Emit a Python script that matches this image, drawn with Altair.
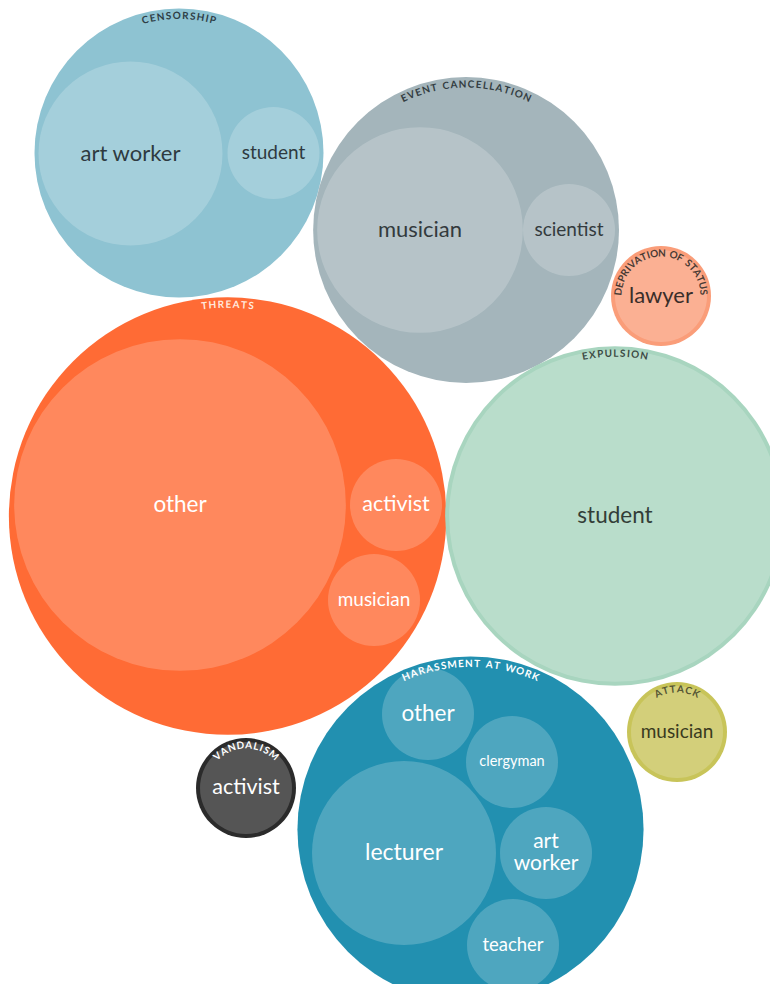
import math
import numpy as np
import pandas as pd
import altair as alt

# ---------------- data ----------------
GROUPS = ["censorship", "event cancellation", "deprivation of status", "threats",
          "expulsion", "harassment at work", "vandalism", "attack"]
LEAF_GROUP = [0, 0, 1, 1, 2, 3, 3, 3, 4, 5, 5, 5, 5, 5, 6, 7]
LEAF_LABEL = ["art worker", "student", "musician", "scientist", "lawyer",
              "other", "activist", "musician", "student",
              "lecturer", "other", "clergyman", "art worker", "teacher",
              "activist", "musician"]
LEAF_COUNT = [4, 1, 5, 1, 1, 13, 1, 1, 13, 4, 1, 1, 1, 1, 1, 1]

# ---------------- layout (bubble centres, in pixel units) ----------------
LAYOUT_X = [130.5, 273.5, 420, 569, 661, 180, 396, 374, 615, 404, 428, 512, 546, 513, 246, 677]
LAYOUT_Y = [153.5, 153, 230, 230, 296, 505, 505, 600, 516, 853, 714, 762, 853, 945, 788, 732]
UNIT_R = 46.0   # radius of a value-1 bubble
PAD = 4.0

# ---------------- styles ----------------
GROUP_COLORS = ["#8ec3d2", "#a4b5bb", "#fa9d79", "#ff6b35",
                "#a8d5bf", "#2290b0", "#2b2b2b", "#c8c459"]
GROUP_LABEL_COLORS = ["#2e3f47", "#333d42", "#4a3a33", "#ffe8dc",
                      "#3b4a43", "#ffffff", "#ffffff", "#555533"]
LEAF_TEXT_COLORS = ["#2e3a40", "#2e3a40", "#333a3d", "#333a3d", "#3a2e2a",
                    "#ffffff", "#ffffff", "#ffffff", "#333d38",
                    "#ffffff", "#ffffff", "#ffffff", "#ffffff", "#ffffff",
                    "#ffffff", "#3a3a20"]
LEAF_FONT_SIZE = [22, 19, 22, 19, 22, 22.5, 21.5, 19, 22.5, 23, 22.5, 14.5, 21, 18.5, 21.5, 19]
WRAP = {12: "art\nworker"}
LABEL_DY = {12: -11}
LINE_H = 22
FONT = "Lato"


def enclose(xs, ys, rs):
    xs, ys, rs = map(np.asarray, (xs, ys, rs))
    f = lambda cx, cy: np.max(np.hypot(xs[None, None, :] - cx[..., None],
                                       ys[None, None, :] - cy[..., None]) + rs, axis=-1)
    cx, cy = float(np.mean(xs)), float(np.mean(ys))
    span = 200.0
    for _ in range(12):
        g = np.linspace(-span, span, 41)
        GX, GY = np.meshgrid(cx + g, cy + g)
        vals = f(GX, GY)
        i = np.unravel_index(np.argmin(vals), vals.shape)
        cx, cy = float(GX[i]), float(GY[i])
        span = span / 5
    rad = float(f(np.array([[cx]]), np.array([[cy]]))[0, 0])
    return cx, cy, rad


leaf_r = [UNIT_R * math.sqrt(v) for v in LEAF_COUNT]

parents = []
for gi, g in enumerate(GROUPS):
    idx = [i for i, lg in enumerate(LEAF_GROUP) if lg == gi]
    if len(idx) == 1:
        i = idx[0]
        cx, cy, R = LAYOUT_X[i], LAYOUT_Y[i], leaf_r[i]
    else:
        cx, cy, R = enclose([LAYOUT_X[i] for i in idx], [LAYOUT_Y[i] for i in idx],
                            [leaf_r[i] for i in idx])
    parents.append((cx, cy, R + PAD))

parent_df = pd.DataFrame({
    "group": GROUPS,
    "x": [p[0] for p in parents],
    "y": [p[1] for p in parents],
    "v": [(p[2] / UNIT_R) ** 2 for p in parents],
    "fill": GROUP_COLORS,
})

leaf_df = pd.DataFrame({
    "group": [GROUPS[g] for g in LEAF_GROUP],
    "label": LEAF_LABEL,
    "text": [WRAP.get(i, l) for i, l in enumerate(LEAF_LABEL)],
    "count": LEAF_COUNT,
    "x": LAYOUT_X,
    "y": LAYOUT_Y,
    "ty": [y + LABEL_DY.get(i, 0) for i, y in enumerate(LAYOUT_Y)],
    "v": LEAF_COUNT,
    "tc": LEAF_TEXT_COLORS,
    "fs": LEAF_FONT_SIZE,
})

# ---- curved group titles: one glyph per row, placed on the top arc ----
CW = {"A": .68, "B": .65, "C": .66, "D": .72, "E": .58, "F": .55, "G": .72, "H": .74,
      "I": .30, "K": .65, "L": .52, "M": .88, "N": .75, "O": .78, "P": .62, "R": .65,
      "S": .56, "T": .60, "U": .72, "V": .66, "W": .95, " ": .30}
ARC_FS = 10
ARC_LS = 1.4
rows = []
for gi, g in enumerate(GROUPS):
    cx, cy, R = parents[gi]
    text = g.upper()
    rt = R - 7.5
    widths = [CW.get(c, .65) * ARC_FS + ARC_LS for c in text]
    total = sum(widths) - ARC_LS
    k = min(1.0, (math.pi * 0.98 * rt) / total)
    widths = [w * k for w in widths]
    total = total * k
    ls = ARC_LS * k
    s = -total / 2
    for c, w in zip(text, widths):
        mid = s + (w - ls) / 2
        s += w
        if c == " ":
            continue
        phi = mid / rt
        rows.append({"ch": c, "x": cx + rt * math.sin(phi), "y": cy - rt * math.cos(phi),
                     "ang": math.degrees(phi) % 360, "tc": GROUP_LABEL_COLORS[gi]})
arc_df = pd.DataFrame(rows)

W, H = 762, 976
X0, Y0 = 8, 8
xs = alt.Scale(domain=[X0, X0 + W], nice=False, zero=False)
ys = alt.Scale(domain=[Y0 + H, Y0], nice=False, zero=False)
vmax = float(max(parent_df["v"].max(), max(LEAF_COUNT)))
ss = alt.Scale(type="linear", domain=[0, vmax], range=[0, vmax * (2 * UNIT_R) ** 2], zero=True)

base_x = alt.X("x:Q", scale=xs, axis=None)
base_y = alt.Y("y:Q", scale=ys, axis=None)

parents_layer = alt.Chart(parent_df).mark_circle(opacity=1, strokeWidth=0).encode(
    x=base_x, y=base_y,
    size=alt.Size("v:Q", scale=ss, legend=None),
    color=alt.Color("fill:N", scale=None),
    tooltip=["group:N"],
)

leaves_layer = alt.Chart(leaf_df).mark_circle(color="#ffffff", opacity=0.2, strokeWidth=0).encode(
    x=base_x, y=base_y,
    size=alt.Size("v:Q", scale=ss, legend=None),
    tooltip=["group:N", "label:N", "count:Q"],
)

leaf_text = alt.Chart(leaf_df).mark_text(
    font=FONT, baseline="middle", align="center", lineBreak="\n", lineHeight=LINE_H
).encode(
    x=base_x, y=alt.Y("ty:Q", scale=ys, axis=None),
    text="text:N",
    color=alt.Color("tc:N", scale=None),
    size=alt.Size("fs:Q", scale=None),
)

arc_text = alt.Chart(arc_df).mark_text(
    font=FONT, fontWeight="bold", fontSize=ARC_FS, baseline="middle", align="center"
).encode(
    x=base_x, y=base_y,
    text="ch:N",
    angle=alt.Angle("ang:Q", scale=None),
    color=alt.Color("tc:N", scale=None),
)

chart = alt.layer(parents_layer, leaves_layer, leaf_text, arc_text).properties(
    width=W, height=H, padding=0, autosize=alt.AutoSizeParams(type="none")
).configure_view(strokeWidth=0).resolve_scale(size="independent")

chart.save("out.html", embed_options={"renderer": "svg", "actions": False})
